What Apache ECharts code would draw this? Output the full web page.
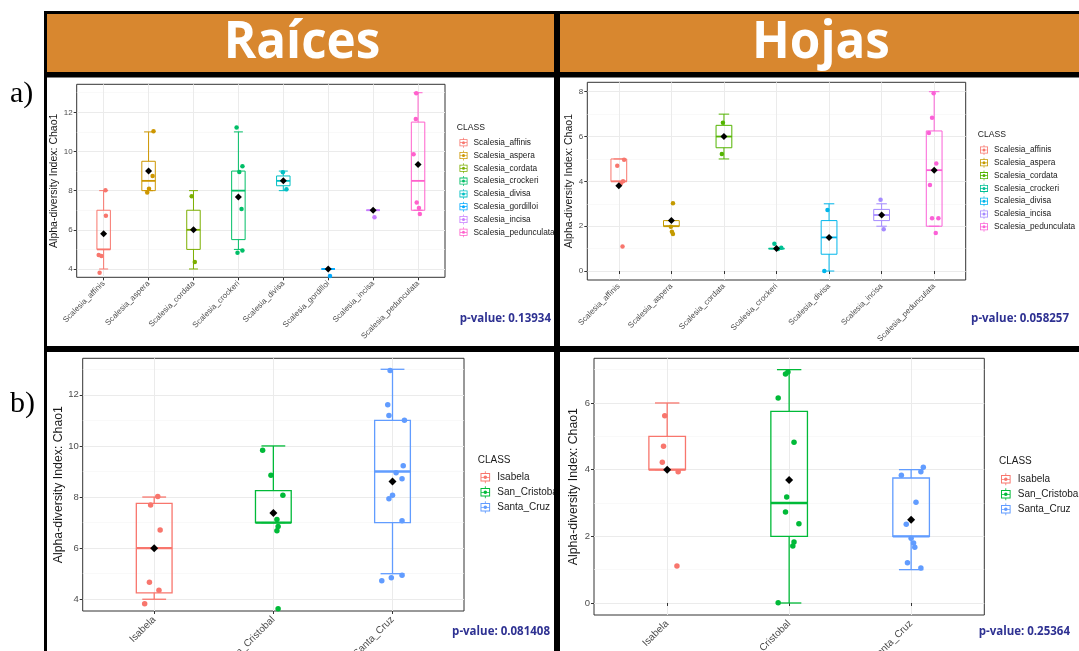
<!DOCTYPE html>
<html>
<head>
<meta charset="utf-8">
<title>Alpha-diversity Chao1 – Raíces / Hojas</title>
<script src="https://cdn.jsdelivr.net/npm/echarts@6/dist/echarts.min.js"></script>
<style>
  html, body { margin: 0; padding: 0; background: #fff; }
  #chart { width: 1079px; height: 651px; }
</style>
</head>
<body>
<div id="chart"></div>
<script>
// ---------- data: roots by species ----------
const rootSpecies = ['Scalesia_affinis', 'Scalesia_aspera', 'Scalesia_cordata', 'Scalesia_crockeri',
  'Scalesia_divisa', 'Scalesia_gordilloi', 'Scalesia_incisa', 'Scalesia_pedunculata'];
// [min, Q1, median, Q3, max]
const rootSpeciesBox = [
  [4, 5, 5, 7, 8], [8, 8, 8.5, 9.5, 11], [4, 5, 6, 7, 8], [5, 5.5, 8, 9, 11],
  [8, 8.25, 8.5, 8.75, 9], [4, 4, 4, 4, 4], [7, 7, 7, 7, 7], [7, 7, 8.5, 11.5, 13]
];
const rootSpeciesMean = [5.8, 9.0, 6.0, 7.67, 8.5, 4.0, 7.0, 9.33];
// jittered samples: [horizontal offset, Chao1]
const rootSpeciesPoints = [
  [[0.04, 8.02], [0.05, 6.72], [-0.11, 4.71], [-0.05, 4.66], [-0.09, 3.81]],
  [[0.11, 11.03], [0.09, 8.75], [0.01, 8.10], [-0.03, 7.91]],
  [[-0.04, 7.71], [0.03, 4.36]],
  [[-0.04, 11.22], [0.09, 9.24], [0.02, 8.95], [0.07, 7.06], [0.09, 4.94], [-0.02, 4.83]],
  [[-0.01, 8.94], [0.07, 8.07]],
  [[0.04, 3.64]],
  [[0.03, 6.64]],
  [[-0.04, 12.97], [-0.05, 11.66], [-0.10, 9.86], [-0.03, 7.40], [0.02, 7.11], [0.04, 6.81]]
];
const rootSpeciesTicks = [4, 6, 8, 10, 12];

// ---------- data: leaves by species ----------
const leafSpecies = ['Scalesia_affinis', 'Scalesia_aspera', 'Scalesia_cordata', 'Scalesia_crockeri',
  'Scalesia_divisa', 'Scalesia_incisa', 'Scalesia_pedunculata'];
const leafSpeciesBox = [
  [4, 4, 4, 5, 5], [2, 2, 2, 2.25, 2.25], [5, 5.5, 6, 6.5, 7], [1, 1, 1, 1, 1],
  [0, 0.75, 1.5, 2.25, 3], [2, 2.25, 2.5, 2.75, 3], [2, 2, 4.5, 6.25, 8]
];
const leafSpeciesMean = [3.8, 2.25, 6.0, 1.0, 1.5, 2.5, 4.5];
const leafSpeciesPoints = [
  [[-0.03, 4.70], [0.10, 4.97], [0.08, 4.01], [0.04, 3.91], [0.07, 1.10]],
  [[0.03, 3.02], [0.03, 1.65], [0.01, 1.75], [-0.01, 1.98]],
  [[-0.02, 6.62], [-0.04, 5.22]],
  [[-0.04, 1.22], [0.09, 1.04], [0.03, 0.98]],
  [[-0.03, 2.72], [-0.09, 0.0]],
  [[-0.02, 3.18], [0.04, 1.86]],
  [[-0.01, 7.93], [-0.04, 6.84], [-0.10, 6.16], [0.04, 4.80], [-0.08, 3.84], [-0.04, 2.36], [0.08, 2.36], [0.03, 1.70]]
];
const leafSpeciesTicks = [0, 2, 4, 6, 8];

// ---------- data: roots by island ----------
const islands = ['Isabela', 'San_Cristobal', 'Santa_Cruz'];
const rootIslandBox = [[4, 4.25, 6, 7.75, 8], [7, 7, 7, 8.25, 10], [5, 7, 9, 11, 13]];
const rootIslandMean = [6.0, 7.38, 8.61];
const rootIslandPoints = [
  [[0.03, 8.02], [-0.03, 7.69], [0.05, 6.71], [-0.04, 4.67], [0.04, 4.35], [-0.08, 3.82]],
  [[-0.09, 9.83], [-0.02, 8.85], [0.08, 8.07], [0.03, 7.12], [0.04, 6.85], [0.03, 6.68], [0.04, 3.63]],
  [[-0.02, 12.95], [-0.04, 11.61], [-0.03, 11.19], [0.10, 11.01], [0.09, 9.22], [0.03, 8.95], [0.08, 8.72],
   [0.00, 8.07], [-0.03, 7.93], [0.08, 7.07], [0.08, 4.94], [-0.01, 4.84], [-0.09, 4.72]]
];
const rootIslandTicks = [4, 6, 8, 10, 12];

// ---------- data: leaves by island ----------
const leafIslandBox = [[4, 4, 4, 5, 6], [0, 2, 3, 5.75, 7], [1, 2, 2, 3.75, 4]];
const leafIslandMean = [4.0, 3.69, 2.5];
const leafIslandPoints = [
  [[-0.02, 5.62], [-0.03, 4.70], [-0.04, 4.22], [0.09, 3.94], [0.08, 1.11]],
  [[-0.03, 6.87], [-0.01, 6.93], [-0.09, 6.15], [0.04, 4.82], [-0.02, 3.18], [-0.03, 2.73], [0.08, 2.38],
   [0.04, 1.83], [0.03, 1.71], [-0.09, 0.01]],
  [[0.10, 4.07], [0.08, 3.94], [-0.08, 3.83], [0.04, 3.02], [-0.04, 2.36], [0.00, 1.94], [0.02, 1.80],
   [0.03, 1.67], [-0.03, 1.21], [0.08, 1.05]]
];
const leafIslandTicks = [0, 2, 4, 6];

const pValueLabels = ['p-value: 0.13934', 'p-value: 0.058257', 'p-value: 0.081408', 'p-value: 0.25364'];
const headerLabels = ['Raíces', 'Hojas'];
const rowLabels = ['a)', 'b)'];
const yTitle = 'Alpha-diversity Index: Chao1';
const legendTitle = 'CLASS';

// ---------- colours (hue palettes) ----------
const hue8 = ['#F8766D', '#CD9600', '#7CAE00', '#00BE67', '#00BFC4', '#00A9FF', '#C77CFF', '#FF61CC'];
const hue7 = ['#F8766D', '#C49A00', '#53B400', '#00C094', '#00B6EB', '#A58AFF', '#FB61D7'];
const hue3 = ['#F8766D', '#00BA38', '#619CFF'];

const FONT = '"Liberation Sans", Arial, sans-serif';
// legend key: outlined box with median bar, whiskers and a dot
const keyIcon = 'path://M2,3H18V17H2Z M3.6,4.6V15.4H16.4V4.6Z M3.6,9.3H16.4V10.7H3.6Z ' +
  'M9.3,0H10.7V3H9.3Z M9.3,17H10.7V20H9.3Z M13,10A3,3 0 1,1 7,10A3,3 0 1,1 13,10Z';

const option = {
  animation: false,
  backgroundColor: '#fff',
  textStyle: { fontFamily: FONT },
  grid: [], xAxis: [], yAxis: [], series: [], legend: [], graphic: []
};

function boxRenderer(colors, lw) {
  return function (params, api) {
    const x = api.value(0);
    const unit = api.size([1, 0])[0];
    const hw = unit * 0.15, cw = unit * 0.1;
    const yv = [1, 2, 3, 4, 5].map(d => api.coord([x, api.value(d)])[1]);
    const cx = api.coord([x, api.value(3)])[0];
    const color = colors[params.dataIndex];
    const st = { stroke: color, lineWidth: lw, fill: null };
    return {
      type: 'group',
      children: [
        { type: 'line', shape: { x1: cx, y1: yv[3], x2: cx, y2: yv[4] }, style: st },
        { type: 'line', shape: { x1: cx, y1: yv[1], x2: cx, y2: yv[0] }, style: st },
        { type: 'line', shape: { x1: cx - cw, y1: yv[4], x2: cx + cw, y2: yv[4] }, style: st },
        { type: 'line', shape: { x1: cx - cw, y1: yv[0], x2: cx + cw, y2: yv[0] }, style: st },
        { type: 'rect', shape: { x: cx - hw, y: yv[3], width: 2 * hw, height: yv[1] - yv[3] },
          style: { stroke: color, lineWidth: lw, fill: 'rgba(255,255,255,0)' } },
        { type: 'line', shape: { x1: cx - hw, y1: yv[2], x2: cx + hw, y2: yv[2] },
          style: { stroke: color, lineWidth: lw * 1.8 } }
      ]
    };
  };
}

function addPanel(p) {
  const gi = option.grid.length;
  const n = p.names.length;
  const xs = p.names.map((_, i) => i + 1);
  option.grid.push({
    left: p.rect[0], top: p.rect[1], width: p.rect[2], height: p.rect[3],
    outerBoundsMode: 'none', containLabel: false,
    show: true, backgroundColor: '#fff', borderColor: '#333', borderWidth: 1
  });
  option.xAxis.push({
    type: 'value', gridIndex: gi, min: 0.4, max: n + 0.6,
    axisLine: { show: false },
    axisTick: { show: true, length: 3, customValues: xs, lineStyle: { color: '#333' } },
    axisLabel: {
      customValues: xs, rotate: 45, margin: p.xMargin, color: '#4d4d4d', fontSize: p.xFont,
      formatter: v => p.names[Math.round(v) - 1] || ''
    },
    splitLine: { show: true, lineStyle: { color: '#ebebeb', width: 1 } }
  });
  option.yAxis.push({
    type: 'value', gridIndex: gi, min: p.yRange[0], max: p.yRange[1],
    minInterval: 2, maxInterval: 2,
    name: yTitle, nameLocation: 'middle', nameGap: p.nameGap,
    nameTextStyle: { fontSize: p.titleFont, color: '#1a1a1a' },
    axisLine: { show: false },
    axisTick: { show: true, length: 3, customValues: p.ticks, lineStyle: { color: '#333' } },
    axisLabel: { customValues: p.ticks, margin: 4, color: '#4d4d4d', fontSize: p.yFont },
    splitLine: { show: true, lineStyle: { color: '#ebebeb', width: 1 } },
    minorTick: { show: false, splitNumber: 2 },
    minorSplitLine: { show: true, lineStyle: { color: '#f5f5f5', width: 0.6 } }
  });
  option.series.push({
    type: 'custom', xAxisIndex: gi, yAxisIndex: gi, z: 2,
    renderItem: boxRenderer(p.colors, p.lw),
    encode: { x: 0, y: [1, 2, 3, 4, 5] },
    data: p.box.map((b, i) => [i + 1].concat(b))
  });
  p.names.forEach((nm, i) => {
    option.series.push({
      type: 'scatter', name: nm, xAxisIndex: gi, yAxisIndex: gi, z: 3,
      symbolSize: p.dot, itemStyle: { color: p.colors[i], opacity: 1 },
      data: p.points[i].map(([dx, y]) => [i + 1 + dx, y])
    });
  });
  option.series.push({
    type: 'scatter', name: 'mean', xAxisIndex: gi, yAxisIndex: gi, z: 4,
    symbol: 'diamond', symbolSize: p.diamond, itemStyle: { color: '#000', opacity: 1 },
    data: p.mean.map((m, i) => [i + 1, m])
  });
  option.legend.push({
    orient: 'vertical', left: p.legend[0], top: p.legend[1], padding: 0,
    itemWidth: p.key[0], itemHeight: p.key[1], itemGap: p.key[2],
    icon: keyIcon, selectedMode: false,
    textStyle: { fontSize: p.legendFont, lineHeight: p.key[1], color: '#1a1a1a', fontFamily: FONT },
    data: p.names.map((nm, i) => ({ name: nm, itemStyle: { color: p.colors[i] } }))
  });
  option.graphic.push({
    type: 'text', x: p.classPos[0], y: p.classPos[1], z: 10,
    style: { text: legendTitle, font: p.classFont + 'px ' + FONT, fill: '#1a1a1a', verticalAlign: 'middle' }
  });
  option.graphic.push({
    type: 'text', x: p.pPos[0], y: p.pPos[1], z: 10,
    style: { text: p.pLabel, font: 'bold 11.5px "Open Sans", sans-serif', fill: '#2E3192',
      align: 'right', verticalAlign: 'middle' }
  });
}

addPanel({
  names: rootSpecies, colors: hue8, box: rootSpeciesBox, mean: rootSpeciesMean, points: rootSpeciesPoints,
  ticks: rootSpeciesTicks, yRange: [3.576, 13.43], rect: [76.7, 84.3, 368.3, 193],
  xFont: 8, xMargin: 5, yFont: 8, titleFont: 10.5, nameGap: 15, legendFont: 8.3, classFont: 8.6,
  dot: 4.5, diamond: 7, lw: 1, legend: [459.5, 137.7], key: [10, 10, 2.8],
  classPos: [456.7, 128], pPos: [551, 318.5], pLabel: pValueLabels[0]
});
addPanel({
  names: leafSpecies, colors: hue7, box: leafSpeciesBox, mean: leafSpeciesMean, points: leafSpeciesPoints,
  ticks: leafSpeciesTicks, yRange: [-0.40, 8.42], rect: [587.3, 82.3, 378.4, 197.7],
  xFont: 8, xMargin: 5, yFont: 8, titleFont: 10.5, nameGap: 11, legendFont: 8.3, classFont: 8.6,
  dot: 4.5, diamond: 7, lw: 1, legend: [980, 145], key: [10, 10, 2.8],
  classPos: [977.7, 135], pPos: [1069, 318.5], pLabel: pValueLabels[1]
});
addPanel({
  names: islands, colors: hue3, box: rootIslandBox, mean: rootIslandMean, points: rootIslandPoints,
  ticks: rootIslandTicks, yRange: [3.54, 13.43], rect: [82.7, 358.3, 381.3, 252.7],
  xFont: 10, xMargin: 7, yFont: 9.5, titleFont: 12.3, nameGap: 18, legendFont: 10, classFont: 10,
  dot: 5.5, diamond: 8, lw: 1.3, legend: [480.5, 471.3], key: [14, 12, 3],
  classPos: [477.7, 460], pPos: [550, 632], pLabel: pValueLabels[2]
});
addPanel({
  names: islands, colors: hue3, box: leafIslandBox, mean: leafIslandMean, points: leafIslandPoints,
  ticks: leafIslandTicks, yRange: [-0.36, 7.34], rect: [594, 358.3, 390.3, 256.7],
  xFont: 10, xMargin: 7, yFont: 9.5, titleFont: 12.3, nameGap: 14, legendFont: 10, classFont: 10,
  dot: 5.5, diamond: 8, lw: 1.3, legend: [1001, 473.3], key: [14, 12, 3],
  classPos: [999, 461.7], pPos: [1070, 632], pLabel: pValueLabels[3]
});

// header bars
const headerBoxes = [[45.5, 12.5, 510, 61], [558.5, 12.5, 530, 61]];
headerBoxes.forEach((b, i) => {
  option.graphic.push({
    type: 'rect', z: 20, shape: { x: b[0], y: b[1], width: b[2], height: b[3] },
    style: { fill: '#D8872F', stroke: '#000', lineWidth: 3 }
  });
  option.graphic.push({
    type: 'text', z: 21, x: i === 0 ? 302 : 821, y: 43, scaleX: 0.95,
    style: { text: headerLabels[i], font: 'bold 52px "Open Sans", sans-serif', fill: '#fff',
      align: 'center', verticalAlign: 'middle' }
  });
});
// panel frames
const frames = [[45.5, 76, 510, 271.5], [558.5, 76, 530, 271.5], [45.5, 350.5, 510, 310], [558.5, 350.5, 530, 310]];
frames.forEach(f => {
  option.graphic.push({
    type: 'rect', z: 20, shape: { x: f[0], y: f[1], width: f[2], height: f[3] },
    style: { fill: null, stroke: '#000', lineWidth: 3 }
  });
});
// row labels
[[10, 94], [10, 404]].forEach((pos, i) => {
  option.graphic.push({
    type: 'text', z: 20, x: pos[0], y: pos[1],
    style: { text: rowLabels[i], font: '30px "Liberation Serif", serif', fill: '#000', verticalAlign: 'middle' }
  });
});

const chart = echarts.init(document.getElementById('chart'), null, { renderer: 'canvas' });
chart.setOption(option);
</script>
</body>
</html>
